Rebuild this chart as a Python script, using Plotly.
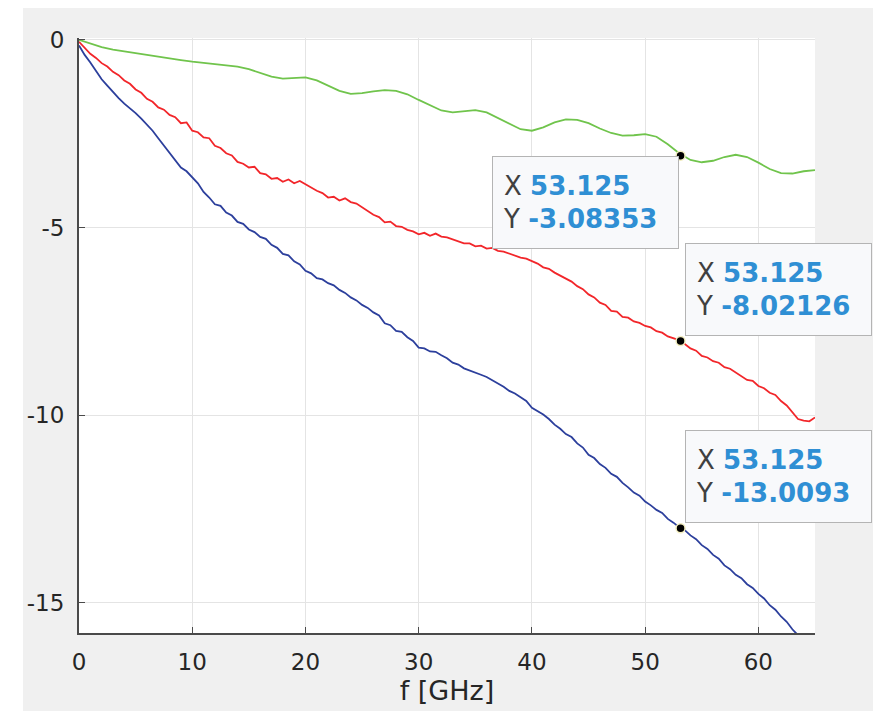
import numpy as np
import plotly.graph_objects as go

# frequency grids (GHz)
f_fine = np.arange(0, 65.5, 0.5)
f_green = np.arange(0, 66, 1)

green_db = [
    0.0, -0.1, -0.19, -0.26, -0.31, -0.35, -0.39, -0.44, -0.49, -0.54,
    -0.58, -0.61, -0.64, -0.67, -0.71, -0.78, -0.88, -0.98, -1.03, -1.02,
    -1.0, -1.08, -1.22, -1.36, -1.44, -1.42, -1.37, -1.34, -1.36, -1.45,
    -1.6, -1.75, -1.88, -1.93, -1.89, -1.87, -1.93, -2.08, -2.25, -2.38,
    -2.42, -2.33, -2.2, -2.12, -2.13, -2.22, -2.36, -2.48, -2.55, -2.54,
    -2.51, -2.58, -2.78, -3.02, -3.2, -3.26, -3.22, -3.12, -3.06, -3.12,
    -3.27, -3.44, -3.55, -3.56, -3.5, -3.47,
]

red_db = [
    -0.05, -0.22, -0.37, -0.48, -0.62, -0.71, -0.85, -0.94, -1.08, -1.17,
    -1.32, -1.41, -1.57, -1.65, -1.80, -1.86, -2.00, -2.06, -2.22, -2.20,
    -2.42, -2.46, -2.60, -2.62, -2.82, -2.88, -3.02, -3.08, -3.25, -3.30,
    -3.40, -3.38, -3.55, -3.58, -3.70, -3.68, -3.78, -3.72, -3.82, -3.76,
    -3.85, -3.92, -4.02, -4.08, -4.20, -4.18, -4.28, -4.22, -4.32, -4.36,
    -4.46, -4.54, -4.66, -4.72, -4.86, -4.84, -4.96, -4.98, -5.06, -5.10,
    -5.18, -5.14, -5.22, -5.16, -5.24, -5.26, -5.32, -5.36, -5.42, -5.42,
    -5.50, -5.48, -5.56, -5.54, -5.62, -5.64, -5.70, -5.74, -5.80, -5.83,
    -5.90, -5.96, -6.06, -6.10, -6.20, -6.28, -6.38, -6.44, -6.56, -6.64,
    -6.78, -6.86, -7.00, -7.06, -7.22, -7.24, -7.38, -7.40, -7.50, -7.54,
    -7.62, -7.66, -7.76, -7.80, -7.90, -7.94, -8.00, -8.10, -8.22, -8.28,
    -8.42, -8.46, -8.56, -8.60, -8.72, -8.76, -8.86, -8.94, -9.06, -9.08,
    -9.22, -9.28, -9.40, -9.46, -9.62, -9.74, -9.92, -10.10, -10.14, -10.16,
    -10.06,
]

blue_db = [
    -0.15, -0.40, -0.60, -0.82, -1.05, -1.22, -1.40, -1.55, -1.70, -1.82,
    -1.95, -2.10, -2.25, -2.42, -2.62, -2.82, -3.02, -3.20, -3.40, -3.50,
    -3.66, -3.82, -4.05, -4.20, -4.38, -4.42, -4.60, -4.68, -4.85, -4.90,
    -5.05, -5.12, -5.25, -5.30, -5.46, -5.54, -5.70, -5.74, -5.90, -5.98,
    -6.15, -6.22, -6.35, -6.38, -6.48, -6.54, -6.66, -6.74, -6.86, -6.94,
    -7.06, -7.14, -7.26, -7.34, -7.55, -7.60, -7.75, -7.78, -7.92, -8.02,
    -8.20, -8.22, -8.30, -8.31, -8.40, -8.48, -8.60, -8.65, -8.75, -8.80,
    -8.86, -8.92, -8.98, -9.06, -9.15, -9.24, -9.35, -9.42, -9.52, -9.62,
    -9.80, -9.88, -9.98, -10.10, -10.25, -10.36, -10.50, -10.58, -10.75, -10.86,
    -11.05, -11.14, -11.30, -11.40, -11.56, -11.64, -11.80, -11.92, -12.06, -12.14,
    -12.30, -12.40, -12.52, -12.60, -12.76, -12.86, -12.98, -13.06, -13.20, -13.30,
    -13.46, -13.56, -13.72, -13.82, -14.00, -14.10, -14.25, -14.34, -14.50, -14.60,
    -14.76, -14.88, -15.06, -15.18, -15.36, -15.50, -15.70, -15.86, -16.00, -16.10,
    -16.20,
]

# data tips
tip_x = [53.125, 53.125, 53.125]
tip_y = [-3.08353, -8.02126, -13.0093]
tip_box_x = [36.48, 53.48, 53.48]
tip_box_y = [-3.085, -5.40, -10.40]

x_ticks = [0, 10, 20, 30, 40, 50, 60]
y_ticks = [0, -5, -10, -15]
y_ticktext = ["0", "-5", "-10", "-15"]

fig = go.Figure()
fig.add_trace(go.Scatter(x=f_green, y=green_db, mode="lines",
                         line=dict(color="#70c44c", width=1.8), hoverinfo="skip"))
fig.add_trace(go.Scatter(x=f_fine, y=red_db, mode="lines",
                         line=dict(color="#f2262a", width=1.8), hoverinfo="skip"))
fig.add_trace(go.Scatter(x=f_fine, y=blue_db, mode="lines",
                         line=dict(color="#2c3f9c", width=1.8), hoverinfo="skip"))
fig.add_trace(go.Scatter(x=tip_x, y=tip_y, mode="markers",
                         marker=dict(color="black", size=9,
                                     line=dict(color="#f3eec0", width=1.5)),
                         cliponaxis=False, hoverinfo="skip"))

for bx, by, tx, ty in zip(tip_box_x, tip_box_y, tip_x, tip_y):
    fig.add_annotation(
        x=bx, y=by, xref="x", yref="y", xanchor="left", yanchor="top",
        showarrow=False, align="left", valign="middle",
        width=165, height=71, borderpad=10, borderwidth=1,
        bordercolor="#b4b4b4", bgcolor="#f8f9fb",
        font=dict(family="DejaVu Sans", size=26, color="#404040"),
        text=(f"X <span style='color:#2f8fd4'><b>{tx:g}</b></span><br>"
              f"Y <span style='color:#2f8fd4'><b>{ty:g}</b></span>"),
    )

# grey figure background with white plot area
fig.add_shape(type="rect", xref="paper", yref="paper", layer="below",
              x0=-0.0761, x1=1.1, y0=-0.2, y1=1.1,
              fillcolor="#f0f0f0", line=dict(width=0))
fig.add_shape(type="rect", xref="paper", yref="paper", layer="below",
              x0=0, x1=1, y0=0, y1=1,
              fillcolor="white", line=dict(width=0))

fig.update_layout(
    width=873, height=703,
    margin=dict(l=71, r=66, t=30, b=78),
    paper_bgcolor="white", plot_bgcolor="white",
    showlegend=False,
    font=dict(family="DejaVu Sans", size=23, color="#262626"),
)
fig.update_xaxes(
    range=[0, 65], tickvals=x_ticks, ticks="inside", ticklen=6,
    tickcolor="#4a4a4a", showline=True, linecolor="#4a4a4a", linewidth=2,
    showgrid=True, gridcolor="#e4e4e4", gridwidth=1, zeroline=False,
    ticklabelstandoff=7,
    title=dict(text="f [GHz]", font=dict(size=27), standoff=6),
)
fig.update_yaxes(
    range=[-15.8, 0.05], tickvals=y_ticks, ticktext=y_ticktext,
    ticks="inside", ticklen=6, tickcolor="#4a4a4a",
    showline=True, linecolor="#4a4a4a", linewidth=2,
    showgrid=True, gridcolor="#e4e4e4", gridwidth=1, zeroline=False,
    ticklabelstandoff=8,
)

fig.write_html("out.html")
